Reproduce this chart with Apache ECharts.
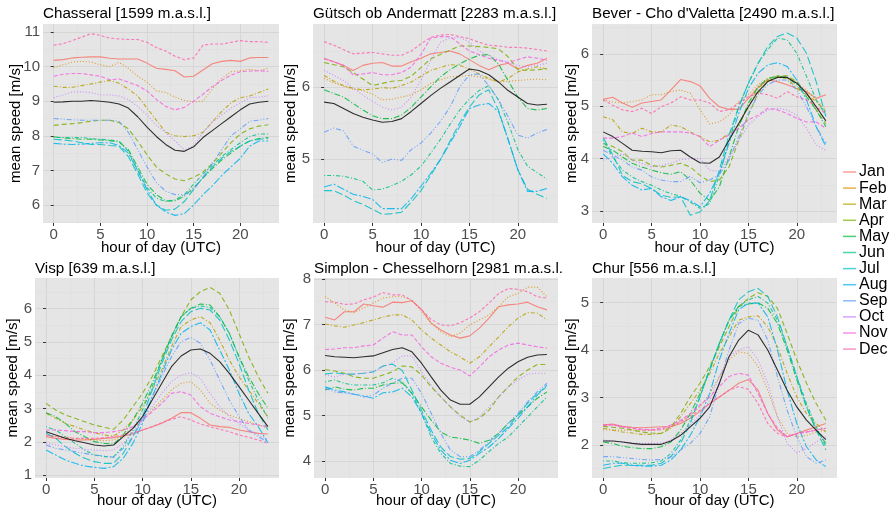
<!DOCTYPE html>
<html><head><meta charset="utf-8">
<script src="https://cdn.jsdelivr.net/npm/echarts@6.0.0/dist/echarts.min.js"></script>
<style>html,body{margin:0;padding:0;background:#fff}#c{width:891px;height:509px}</style>
</head><body><div id="c"></div><script>
const hours = [0,1,2,3,4,5,6,7,8,9,10,11,12,13,14,15,16,17,18,19,20,21,22,23];
const months = ['Jan','Feb','Mar','Apr','May','Jun','Jul','Aug','Sep','Oct','Nov','Dec'];
const xTicks = [0,5,10,15,20];

// Chasseral [1599 m.a.s.l.] (rows Jan..Dec)
const chasseral = [
 [10.18,10.2,10.25,10.27,10.28,10.28,10.24,10.22,10.22,10.22,10.1,9.95,9.92,9.88,9.7,9.72,9.9,10.08,10.15,10.18,10.15,10.25,10.26,10.26],
 [9.97,10.05,10.13,10.15,10.13,10.05,10.0,10.12,9.95,9.72,9.55,9.3,9.25,9.12,9.02,8.98,9.0,9.35,9.65,9.85,9.88,9.92,9.88,9.95],
 [9.43,9.4,9.4,9.45,9.5,9.55,9.6,9.52,9.35,9.15,8.8,8.45,8.1,8.0,7.98,8.0,8.1,8.4,8.7,8.95,9.1,9.15,9.25,9.35],
 [8.3,8.33,8.35,8.38,8.42,8.45,8.45,8.38,8.2,7.85,7.45,7.1,6.9,6.75,6.7,6.8,6.95,7.2,7.5,7.8,8.05,8.2,8.28,8.32],
 [7.97,7.94,7.92,7.9,7.9,7.88,7.86,7.82,7.6,7.1,6.6,6.3,6.12,6.12,6.25,6.5,6.78,7.05,7.3,7.5,7.7,7.85,7.92,7.95],
 [7.95,7.95,7.95,7.95,7.92,7.9,7.88,7.85,7.55,7.0,6.5,6.2,6.1,6.15,6.3,6.6,6.9,7.15,7.4,7.6,7.8,7.98,8.05,8.05],
 [7.9,7.88,7.85,7.8,7.75,7.75,7.72,7.7,7.4,6.9,6.35,6.0,5.85,5.88,6.1,6.45,6.8,7.1,7.35,7.55,7.7,7.85,7.9,7.92],
 [7.78,7.76,7.75,7.76,7.78,7.8,7.8,7.72,7.5,7.0,6.45,6.0,5.8,5.7,5.75,6.0,6.3,6.55,6.85,7.1,7.35,7.7,7.85,7.85],
 [8.5,8.48,8.46,8.45,8.45,8.45,8.45,8.42,8.1,7.6,7.1,6.65,6.4,6.3,6.3,6.45,6.8,7.2,7.6,8.0,8.2,8.42,8.45,8.5],
 [9.1,9.18,9.27,9.27,9.25,9.18,9.18,9.15,9.05,8.85,8.6,8.3,8.1,7.85,7.6,7.7,8.1,8.4,8.6,8.8,8.95,9.1,9.12,9.15],
 [9.72,9.78,9.8,9.8,9.76,9.72,9.62,9.64,9.55,9.45,9.3,9.05,8.85,8.75,8.82,9.0,9.2,9.42,9.6,9.75,9.85,9.87,9.88,9.86],
 [10.62,10.66,10.75,10.85,10.95,10.9,10.82,10.8,10.78,10.78,10.7,10.55,10.45,10.3,10.2,10.25,10.62,10.65,10.65,10.7,10.75,10.72,10.72,10.7]
];
const chasseralMean = [8.97,8.98,9.0,9.0,9.02,9.0,8.97,8.92,8.8,8.55,8.25,7.98,7.75,7.58,7.55,7.68,7.95,8.15,8.35,8.55,8.75,8.92,8.97,9.0];

// Gütsch ob Andermatt [2283 m.a.s.l.]
const guetsch = [
 [6.4,6.35,6.3,6.23,6.3,6.33,6.34,6.29,6.29,6.35,6.4,6.46,6.48,6.5,6.46,6.38,6.3,6.24,6.3,6.33,6.25,6.3,6.33,6.4],
 [6.12,6.06,6.01,5.97,5.95,5.9,5.82,5.83,5.86,5.89,5.96,6.05,6.1,6.14,6.15,6.16,6.14,6.11,6.07,6.08,6.09,6.1,6.11,6.1],
 [6.16,6.08,6.02,5.98,5.96,5.97,5.99,5.98,6.02,6.07,6.15,6.23,6.27,6.31,6.3,6.25,6.18,6.12,6.07,6.12,6.21,6.25,6.28,6.25],
 [6.34,6.31,6.28,6.2,6.11,6.02,6.05,6.08,6.09,6.15,6.27,6.39,6.45,6.51,6.57,6.57,6.56,6.55,6.53,6.42,6.24,6.23,6.24,6.25],
 [5.96,5.91,5.86,5.77,5.68,5.6,5.56,5.56,5.61,5.72,5.86,6.0,6.14,6.24,6.32,6.39,6.44,6.45,6.32,6.09,5.86,5.7,5.68,5.7],
 [4.77,4.77,4.76,4.73,4.69,4.57,4.58,4.63,4.69,4.78,4.9,5.08,5.27,5.48,5.68,5.83,5.95,6.02,5.82,5.5,5.13,4.9,4.81,4.72],
 [4.56,4.56,4.5,4.42,4.37,4.3,4.23,4.24,4.26,4.4,4.56,4.77,4.99,5.25,5.5,5.72,5.89,5.96,5.68,5.27,4.85,4.58,4.51,4.45],
 [4.61,4.65,4.58,4.51,4.48,4.44,4.31,4.31,4.31,4.45,4.62,4.8,4.99,5.22,5.45,5.7,5.75,5.77,5.66,5.27,4.85,4.55,4.55,4.59],
 [5.37,5.43,5.39,5.18,5.12,5.07,4.95,5.0,4.98,5.13,5.22,5.36,5.52,5.72,6.0,6.17,6.18,6.02,5.82,5.59,5.33,5.29,5.36,5.41],
 [6.23,6.16,6.09,5.98,5.89,5.8,5.72,5.68,5.72,5.86,6.1,6.37,6.62,6.68,6.69,6.62,6.5,6.44,6.38,6.34,6.3,6.28,6.3,6.33],
 [6.39,6.35,6.3,6.17,6.18,6.2,6.17,6.17,6.2,6.28,6.45,6.68,6.7,6.7,6.6,6.5,6.45,6.4,6.37,6.34,6.38,6.42,6.4,6.37],
 [6.63,6.58,6.52,6.46,6.47,6.48,6.46,6.44,6.44,6.5,6.6,6.69,6.72,6.73,6.7,6.67,6.62,6.58,6.57,6.55,6.55,6.54,6.52,6.5]
];
const guetschMean = [5.79,5.77,5.7,5.63,5.58,5.54,5.51,5.52,5.56,5.66,5.77,5.88,5.98,6.07,6.16,6.25,6.23,6.17,6.07,5.95,5.86,5.77,5.75,5.76];

// Bever - Cho d'Valetta [2490 m.a.s.l.]
const bever = [
 [5.13,5.17,5.06,4.98,5.06,5.09,5.12,5.31,5.51,5.47,5.39,5.15,4.99,4.94,4.94,5.15,5.36,5.5,5.47,5.41,5.34,5.28,5.15,5.22],
 [5.12,5.08,5.06,5.09,5.12,5.22,5.22,5.28,5.31,5.25,4.93,4.66,4.7,4.83,5.09,5.22,5.41,5.53,5.57,5.55,5.44,5.31,5.12,4.93],
 [4.8,4.74,4.51,4.48,4.58,4.51,4.51,4.64,4.61,4.51,4.42,4.32,4.35,4.48,4.64,4.99,5.34,5.5,5.55,5.53,5.34,5.22,5.09,4.9],
 [4.29,4.23,4.13,3.97,3.97,3.87,3.84,3.87,3.91,3.84,3.68,3.56,3.59,3.84,4.35,4.83,5.25,5.47,5.58,5.58,5.47,5.25,4.93,4.67],
 [4.23,4.16,4.03,3.91,3.84,3.78,3.73,3.7,3.75,3.59,3.34,3.2,3.46,4.03,4.61,5.06,5.37,5.53,5.57,5.55,5.41,5.18,4.93,4.61],
 [4.35,4.03,3.78,3.65,3.56,3.49,3.4,3.33,3.28,3.17,3.05,3.14,3.68,4.35,4.99,5.44,5.82,6.08,6.3,6.27,6.01,5.57,5.12,4.83],
 [4.4,4.07,3.68,3.56,3.52,3.43,3.3,3.26,3.27,2.92,2.98,3.2,3.78,4.45,4.99,5.44,5.82,6.14,6.33,6.4,6.3,6.01,5.47,4.8],
 [4.09,3.91,3.65,3.49,3.4,3.43,3.27,3.2,3.27,3.2,3.08,3.34,3.72,4.29,4.86,5.34,5.63,5.79,5.83,5.76,5.5,5.12,4.61,4.23],
 [4.16,4.07,3.97,3.84,3.78,3.65,3.59,3.56,3.56,3.66,3.54,3.59,3.7,3.97,4.42,4.86,5.22,5.41,5.5,5.5,5.31,4.99,4.61,4.29],
 [3.97,4.03,4.09,3.97,3.91,3.84,3.87,3.91,3.98,4.0,4.0,3.78,3.75,4.03,4.35,4.64,4.8,4.93,4.96,4.93,4.83,4.58,4.26,4.16],
 [4.39,4.39,4.42,4.49,4.42,4.48,4.51,4.51,4.51,4.49,4.42,4.23,4.35,4.45,4.58,4.74,4.83,4.96,4.93,4.86,4.77,4.7,4.7,4.58],
 [5.12,5.02,4.93,4.9,4.96,4.86,4.99,5.06,5.18,5.12,5.12,5.06,4.9,4.93,5.06,5.18,5.25,5.22,5.15,5.28,5.18,5.12,4.99,4.86]
];
const beverMean = [4.51,4.42,4.29,4.16,4.14,4.13,4.11,4.15,4.16,4.03,3.92,3.91,4.03,4.35,4.67,4.99,5.28,5.47,5.55,5.55,5.44,5.25,4.99,4.72];

// Visp [639 m.a.s.l.]
const visp = [
 [2.16,2.11,2.08,2.06,2.06,2.08,2.11,2.13,2.18,2.24,2.36,2.46,2.56,2.71,2.88,2.88,2.71,2.51,2.46,2.44,2.36,2.31,2.26,2.24],
 [2.21,2.16,2.16,2.11,2.08,2.06,2.04,2.06,2.21,2.41,2.66,2.96,3.26,3.56,3.76,3.81,3.56,3.16,2.96,2.81,2.71,2.61,2.51,2.41],
 [2.86,2.71,2.56,2.46,2.36,2.28,2.21,2.18,2.36,2.66,3.06,3.56,4.16,4.86,5.46,5.66,5.76,5.58,5.06,4.46,3.96,3.56,3.16,2.76],
 [3.16,2.96,2.81,2.71,2.61,2.51,2.44,2.38,2.66,3.06,3.46,3.96,4.56,5.16,5.76,6.26,6.51,6.64,6.46,5.96,5.26,4.56,3.96,3.46],
 [2.88,2.76,2.56,2.31,2.16,2.01,1.96,1.94,2.21,2.66,3.16,3.76,4.46,5.16,5.76,6.01,6.14,6.11,5.76,5.26,4.56,3.96,3.46,3.01],
 [2.46,2.36,2.16,1.96,1.76,1.61,1.56,1.56,1.86,2.36,2.96,3.66,4.46,5.16,5.76,6.01,6.08,6.04,5.76,5.26,4.56,3.86,3.26,2.71],
 [2.26,2.11,1.86,1.66,1.51,1.41,1.36,1.36,1.66,2.16,2.76,3.56,4.36,5.06,5.61,5.91,6.01,5.96,5.66,5.06,4.36,3.56,2.86,2.36],
 [1.76,1.61,1.46,1.36,1.28,1.24,1.21,1.26,1.51,1.96,2.56,3.36,4.06,4.76,5.26,5.46,5.58,5.36,4.76,4.16,3.46,2.86,2.46,1.98],
 [1.91,1.81,1.76,1.71,1.66,1.61,1.58,1.54,1.81,2.16,2.66,3.36,3.96,4.56,5.01,5.14,4.96,4.46,3.86,3.26,2.76,2.36,2.16,1.99],
 [1.96,1.91,1.86,1.81,1.78,1.76,1.74,1.76,1.96,2.31,2.66,3.06,3.46,3.81,4.01,4.08,3.91,3.46,3.06,2.76,2.56,2.36,2.21,2.06],
 [2.36,2.36,2.34,2.31,2.31,2.28,2.28,2.31,2.36,2.46,2.66,2.91,3.16,3.46,3.51,3.41,3.06,2.86,2.76,2.66,2.61,2.56,2.51,2.46],
 [2.21,2.16,2.13,2.11,2.11,2.11,2.13,2.16,2.21,2.28,2.36,2.46,2.58,2.68,2.76,2.66,2.54,2.46,2.38,2.31,2.21,2.14,2.06,1.96]
];
const vispMean = [2.31,2.21,2.11,2.04,1.98,1.91,1.88,1.91,2.16,2.41,2.76,3.26,3.76,4.26,4.58,4.76,4.79,4.66,4.41,4.06,3.66,3.26,2.86,2.46];

// Simplon - Chesselhorn [2981 m.a.s.l.]
const simplon = [
 [7.16,7.1,7.28,7.28,7.45,7.41,7.38,7.49,7.48,7.52,7.33,7.03,6.88,6.77,6.7,6.75,6.92,7.14,7.39,7.43,7.45,7.49,7.39,7.32],
 [7.61,7.47,7.32,7.26,7.36,7.47,7.58,7.61,7.61,7.54,7.28,7.03,6.84,6.73,6.81,6.99,7.1,7.21,7.39,7.61,7.68,7.82,7.82,7.61],
 [7.01,6.97,6.94,6.99,7.04,7.1,7.16,7.21,7.21,7.1,6.88,6.7,6.55,6.4,6.29,6.15,6.29,6.51,6.73,6.95,7.14,7.26,7.25,7.1],
 [6.01,5.98,5.93,5.85,5.82,5.82,5.89,5.96,6.09,6.07,5.89,5.63,5.41,5.19,5.01,4.86,4.94,5.12,5.41,5.63,5.85,6.0,6.12,6.12],
 [5.56,5.63,5.58,5.56,5.6,5.6,5.67,5.71,5.72,5.49,5.19,4.9,4.64,4.53,4.5,4.46,4.39,4.46,4.61,4.83,5.01,5.19,5.38,5.52],
 [5.74,5.78,5.71,5.67,5.67,5.67,5.72,5.82,5.74,5.49,5.05,4.53,4.17,3.95,3.89,3.88,4.02,4.21,4.39,4.53,4.75,4.97,5.19,5.41],
 [5.91,5.94,5.91,5.91,5.93,5.96,6.09,6.13,5.99,5.56,5.12,4.68,4.31,4.1,4.04,4.06,4.21,4.39,4.57,4.75,5.01,5.27,5.49,5.63],
 [5.63,5.56,5.52,5.47,5.43,5.38,5.5,5.52,5.6,5.41,5.05,4.61,4.24,4.02,3.95,4.02,4.17,4.31,4.5,4.72,4.94,5.19,5.45,5.67],
 [5.6,5.52,5.5,5.47,5.41,5.45,5.6,5.71,5.82,5.82,5.49,5.05,4.61,4.24,4.1,4.1,4.24,4.42,4.61,4.83,5.05,5.3,5.52,5.71],
 [5.89,5.85,5.91,5.91,5.93,5.96,6.07,6.16,6.31,6.31,5.96,5.67,5.41,5.19,4.97,4.86,4.97,5.19,5.41,5.63,5.78,5.91,5.93,5.93],
 [6.45,6.46,6.49,6.49,6.53,6.55,6.7,6.84,6.77,6.77,6.51,6.29,6.15,6.06,6.0,5.87,6.07,6.29,6.44,6.55,6.59,6.55,6.51,6.48],
 [7.5,7.49,7.44,7.45,7.54,7.6,7.7,7.65,7.65,7.52,7.32,7.11,6.99,6.97,7.04,7.14,7.28,7.47,7.68,7.79,7.77,7.72,7.61,7.58]
];
const simplonMean = [6.32,6.29,6.28,6.27,6.29,6.31,6.38,6.45,6.49,6.4,6.15,5.85,5.56,5.34,5.25,5.25,5.41,5.63,5.85,6.04,6.18,6.28,6.33,6.34];

// Chur [556 m.a.s.l.]
const chur = [
 [2.42,2.44,2.39,2.37,2.36,2.37,2.38,2.38,2.45,2.56,2.7,2.87,3.01,3.15,3.3,3.38,3.15,2.66,2.31,2.17,2.24,2.31,2.38,2.45],
 [2.32,2.31,2.31,2.31,2.31,2.31,2.32,2.38,2.49,2.63,2.8,3.08,3.44,3.79,3.96,3.93,3.65,3.15,2.59,2.24,2.17,2.2,2.27,2.31],
 [2.35,2.31,2.27,2.25,2.22,2.22,2.24,2.35,2.59,2.87,3.15,3.5,3.93,4.28,4.63,4.7,4.72,4.49,4.07,3.51,3.01,2.66,2.45,2.27],
 [2.39,2.37,2.35,2.31,2.27,2.25,2.24,2.38,2.66,3.01,3.3,3.65,4.07,4.49,4.92,5.09,5.21,5.13,4.88,4.35,3.79,3.3,2.87,2.52],
 [2.06,2.03,1.97,1.94,1.92,1.92,1.96,2.06,2.31,2.66,3.08,3.58,4.14,4.63,4.92,4.97,5.0,4.88,4.56,4.0,3.37,2.8,2.31,2.03],
 [1.66,1.66,1.62,1.61,1.61,1.62,1.66,1.82,2.1,2.52,3.01,3.58,4.14,4.63,4.92,5.06,5.13,4.99,4.63,4.07,3.44,2.87,2.38,1.96],
 [1.5,1.54,1.57,1.57,1.57,1.57,1.61,1.75,2.03,2.45,3.01,3.58,4.14,4.63,5.06,5.23,5.3,5.13,4.7,4.07,3.44,2.8,2.31,1.89],
 [1.57,1.61,1.61,1.57,1.55,1.55,1.57,1.68,1.89,2.2,2.59,3.08,3.79,4.35,4.85,4.99,4.99,4.7,4.0,3.15,2.45,1.96,1.68,1.54],
 [1.75,1.75,1.73,1.71,1.69,1.68,1.69,1.75,1.89,2.03,2.24,2.59,3.3,4.0,4.56,4.67,4.63,4.21,3.44,2.73,2.17,1.75,1.61,1.68],
 [2.1,2.08,2.06,2.04,2.03,2.03,2.04,2.1,2.24,2.42,2.63,2.94,3.44,3.86,4.0,4.07,3.79,3.3,2.59,2.03,1.83,1.92,2.06,2.17],
 [2.4,2.42,2.38,2.35,2.33,2.32,2.35,2.42,2.52,2.66,2.84,3.01,3.23,3.44,3.51,3.47,3.08,2.66,2.35,2.17,2.23,2.27,2.31,2.35],
 [2.42,2.42,2.38,2.35,2.31,2.31,2.32,2.38,2.49,2.61,2.73,2.87,3.01,3.15,3.23,3.17,2.87,2.45,2.24,2.17,2.24,2.27,2.31,2.35]
];
const churMean = [2.08,2.08,2.06,2.03,2.01,2.01,2.01,2.08,2.2,2.38,2.56,2.8,3.3,3.86,4.21,4.42,4.32,4.0,3.58,3.15,2.8,2.52,2.31,2.11];

// ---------------- styling / layout ----------------
const FONT = '"Liberation Sans", Arial, sans-serif';
const TICK_FS = 15, NAME_FS = 15, TITLE_FS = 15.2, LEG_FS = 16;
const monthColors = ['#F8766D','#DE8C00','#B79F00','#7CAE00','#00BA38','#00C08B','#00BFC4','#00B4F0','#619CFF','#C77CFF','#F564E3','#FF64B0'];
const monthDash = ['solid',[1,2],[4,2,1,2],[5,3],[6,2,1,2],[1,2,4,2],[8,3],[8,2,2,2],[5,2,1,2,1,2],[1,2],[4,2],[3,2]];

const panels = [
 {title:'Chasseral [1599 m.a.s.l.]', vals:chasseral, mean:chasseralMean, yTicks:[6,7,8,9,10,11], yMinor:[5.5,6.5,7.5,8.5,9.5,10.5],
  grid:{left:43,top:24,width:236,height:199}, ymin:5.48, ymax:11.23, yGap:20, xGap:17, tTop:6.5},
 {title:'Gütsch ob Andermatt [2283 m.a.s.l.]', vals:guetsch, mean:guetschMean, yTicks:[5,6], yMinor:[4.5,5.5,6.5],
  grid:{left:313,top:24,width:245,height:199}, ymin:4.11, ymax:6.875, yGap:15, xGap:17, tTop:6.5},
 {title:"Bever - Cho d'Valetta [2490 m.a.s.l.]", vals:bever, mean:beverMean, yTicks:[3,4,5,6], yMinor:[3.5,4.5,5.5,6.5],
  grid:{left:592,top:24,width:245,height:199}, ymin:2.77, ymax:6.57, yGap:13, xGap:17, tTop:6.5},
 {title:'Visp [639 m.a.s.l.]', vals:visp, mean:vispMean, yTicks:[1,2,3,4,5,6], yMinor:[1.5,2.5,3.5,4.5,5.5,6.5],
  grid:{left:35,top:278,width:244,height:200}, ymin:0.92, ymax:6.92, yGap:15, xGap:15, tTop:261.5},
 {title:'Simplon - Chesselhorn [2981 m.a.s.l.]', vals:simplon, mean:simplonMean, yTicks:[4,5,6,7,8], yMinor:[4.5,5.5,6.5,7.5],
  grid:{left:314,top:278,width:244,height:200}, ymin:3.63, ymax:8.02, yGap:17, xGap:15, tTop:261.5, clip:251},
 {title:'Chur [556 m.a.s.l.]', vals:chur, mean:churMean, yTicks:[2,3,4,5], yMinor:[1.5,2.5,3.5,4.5],
  grid:{left:592,top:278,width:245,height:200}, ymin:1.30, ymax:5.52, yGap:13, xGap:15, tTop:261.5}
];

const grids=[], xAxes=[], yAxes=[], series=[], titles=[];
const major = {show:true, lineStyle:{color:'#d6d6d6', width:1}};
const minorL = {show:true, lineStyle:{color:'#dddddd', width:0.6}};
panels.forEach((p,i)=>{
  grids.push(Object.assign({show:true, backgroundColor:'#E5E5E5', borderWidth:0, outerBoundsMode:'none', containLabel:false}, p.grid));
  const ts = {fontSize:TITLE_FS, fontWeight:'normal', color:'#000', fontFamily:FONT, lineHeight:15};
  if (p.clip) { ts.width = p.clip; ts.overflow = 'truncate'; ts.ellipsis = ''; }
  titles.push({text:p.title, left:p.grid.left, top:p.tTop, padding:0, textStyle:ts});
  xAxes.push({type:'value', gridIndex:i, min:-1.15, max:24.15, position:'bottom',
    axisLine:{show:false}, axisTick:{show:true, length:3, lineStyle:{color:'#333'}, customValues:xTicks},
    axisLabel:{customValues:xTicks, color:'#4d4d4d', fontSize:TICK_FS, fontFamily:FONT, margin:4},
    splitLine:major, name:'hour of day (UTC)', nameLocation:'middle', nameGap:p.xGap, nameMoveOverlap:false,
    nameTextStyle:{fontSize:NAME_FS, color:'#000', fontFamily:FONT}});
  xAxes.push({type:'value', gridIndex:i, min:-1.15, max:24.15, position:'top',
    axisLine:{show:false}, axisTick:{show:false, customValues:[2.5,7.5,12.5,17.5,22.5]}, axisLabel:{show:false},
    splitLine:minorL});
  yAxes.push({type:'value', gridIndex:i, min:p.ymin, max:p.ymax, position:'left',
    axisLine:{show:false}, axisTick:{show:true, length:3, lineStyle:{color:'#333'}, customValues:p.yTicks},
    axisLabel:{customValues:p.yTicks, color:'#4d4d4d', fontSize:TICK_FS, fontFamily:FONT, margin:3},
    splitLine:major, name:'mean speed [m/s]', nameLocation:'middle', nameGap:p.yGap, nameRotate:90, nameMoveOverlap:false,
    nameTextStyle:{fontSize:NAME_FS, color:'#000', fontFamily:FONT}});
  yAxes.push({type:'value', gridIndex:i, min:p.ymin, max:p.ymax, position:'right',
    axisLine:{show:false}, axisTick:{show:false, customValues:p.yMinor}, axisLabel:{show:false},
    splitLine:minorL});
  p.vals.forEach((row,m)=>{
    series.push({type:'line', name:months[m], xAxisIndex:2*i, yAxisIndex:2*i,
      data:hours.map((h,k)=>[h,row[k]]), symbol:'none', showSymbol:false, silent:true,
      itemStyle:{color:monthColors[m]},
      lineStyle:{color:monthColors[m], width:1.1, type:monthDash[m], opacity:0.85}});
  });
  series.push({type:'line', name:'mean', xAxisIndex:2*i, yAxisIndex:2*i,
    data:hours.map((h,k)=>[h,p.mean[k]]), symbol:'none', showSymbol:false, silent:true,
    itemStyle:{color:'#1a1a1a'}, lineStyle:{color:'#1a1a1a', width:1.1, opacity:0.9}});
});

const chart = echarts.init(document.getElementById('c'), null, {renderer:'canvas'});
chart.setOption({
  animation:false, backgroundColor:'#fff',
  title:titles, grid:grids, xAxis:xAxes, yAxis:yAxes, series:series,
  legend:{data:months, orient:'vertical', left:843, top:164, padding:0, icon:'rect', itemWidth:13, itemHeight:1.5, itemGap:0.1,
    selectedMode:false, itemStyle:{opacity:0.7}, lineStyle:{type:'solid'},
    textStyle:{fontSize:LEG_FS, lineHeight:16, color:'#000', fontFamily:FONT, padding:[0,0,0,-2]}}
});
</script></body></html>
